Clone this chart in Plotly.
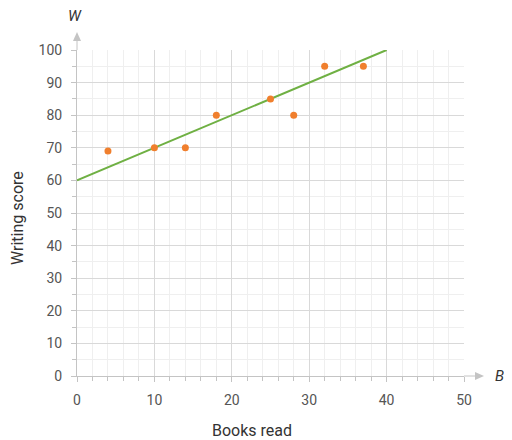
import plotly.graph_objects as go

books_read = [4, 10, 14, 18, 25, 28, 32, 37]
writing_score = [69, 70, 70, 80, 85, 80, 95, 95]
fit_x = [0, 40]
fit_y = [60, 100]
x_ticks = [0, 10, 20, 30, 40, 50]
y_ticks = [0, 10, 20, 30, 40, 50, 60, 70, 80, 90, 100]

OFF = 8  # page body margin
L, R, T, B = 77 - OFF, 464 - OFF, 50 - OFF, 376 - OFF
W_, H_ = 512 - OFF, 440 - OFF
pw, ph = R - L, B - T

def px(x):
    return (x - OFF - L) / pw

def py(y):
    return (B - (y - OFF)) / ph

fig = go.Figure()
fig.add_trace(go.Scatter(x=fit_x, y=fit_y, mode="lines",
                         line=dict(color="#6fb043", width=2), hoverinfo="skip"))
fig.add_trace(go.Scatter(x=books_read, y=writing_score, mode="markers",
                         marker=dict(color="#f07f2d", size=7)))

axis_common = dict(
    showline=True, linecolor="#c4c4c4", linewidth=1,
    showgrid=True, gridcolor="#d9d9d9", gridwidth=1,
    ticks="outside", ticklen=5, tickcolor="#c4c4c4",
    tickfont=dict(family="Roboto", size=14, color="#555555"),
    zeroline=False, fixedrange=True, automargin=False,
)

fig.update_layout(
    width=W_, height=H_,
    margin=dict(l=L, r=W_ - R, t=T, b=H_ - B),
    paper_bgcolor="white", plot_bgcolor="white",
    showlegend=False,
    font=dict(family="Roboto", color="#333333"),
    xaxis=dict(range=[0, 50], tickvals=x_ticks,
               minor=dict(dtick=2, showgrid=True, gridcolor="#efefef",
                          ticks="outside", ticklen=4, tickcolor="#c4c4c4"),
               ticklabelstandoff=6,
               **axis_common),
    yaxis=dict(range=[0, 100], tickvals=y_ticks,
               minor=dict(dtick=5, showgrid=True, gridcolor="#efefef",
                          ticks="outside", ticklen=4, tickcolor="#c4c4c4"),
               ticklabelstandoff=6,
               **axis_common),
)

# axis arrows
fig.add_shape(type="line", xref="paper", yref="paper",
              x0=1, y0=0, x1=px(475), y1=0, line=dict(color="#c4c4c4", width=1))
fig.add_shape(type="path", xref="paper", yref="paper",
              path=f"M {px(475)} {py(372)} L {px(484)} {py(376)} L {px(475)} {py(380)} Z",
              fillcolor="#c4c4c4", line=dict(width=0))
fig.add_shape(type="line", xref="paper", yref="paper",
              x0=0, y0=1, x1=0, y1=py(40), line=dict(color="#c4c4c4", width=1))
fig.add_shape(type="path", xref="paper", yref="paper",
              path=f"M {px(73)} {py(41)} L {px(77)} {py(32)} L {px(81)} {py(41)} Z",
              fillcolor="#c4c4c4", line=dict(width=0))

fig.add_annotation(text="<i>W</i>", xref="paper", yref="paper", x=px(75), y=py(16),
                   xanchor="center", yanchor="middle",
                   showarrow=False, font=dict(family="Roboto", size=15, color="#333333"))
fig.add_annotation(text="<i>B</i>", xref="paper", yref="paper", x=px(499), y=py(376),
                   xanchor="center", yanchor="middle",
                   showarrow=False, font=dict(family="Roboto", size=15, color="#333333"))

# axis titles
fig.add_annotation(text="Books read", xref="paper", yref="paper", x=px(252), y=py(430),
                   xanchor="center", yanchor="middle",
                   showarrow=False, font=dict(family="Roboto", size=16, color="#333333"))
fig.add_annotation(text="Writing score", xref="paper", yref="paper", x=px(17), y=py(218),
                   xanchor="center", yanchor="middle", textangle=-90, borderpad=0,
                   showarrow=False, font=dict(family="Roboto", size=16, color="#333333"))

fig.write_html("out.html")
